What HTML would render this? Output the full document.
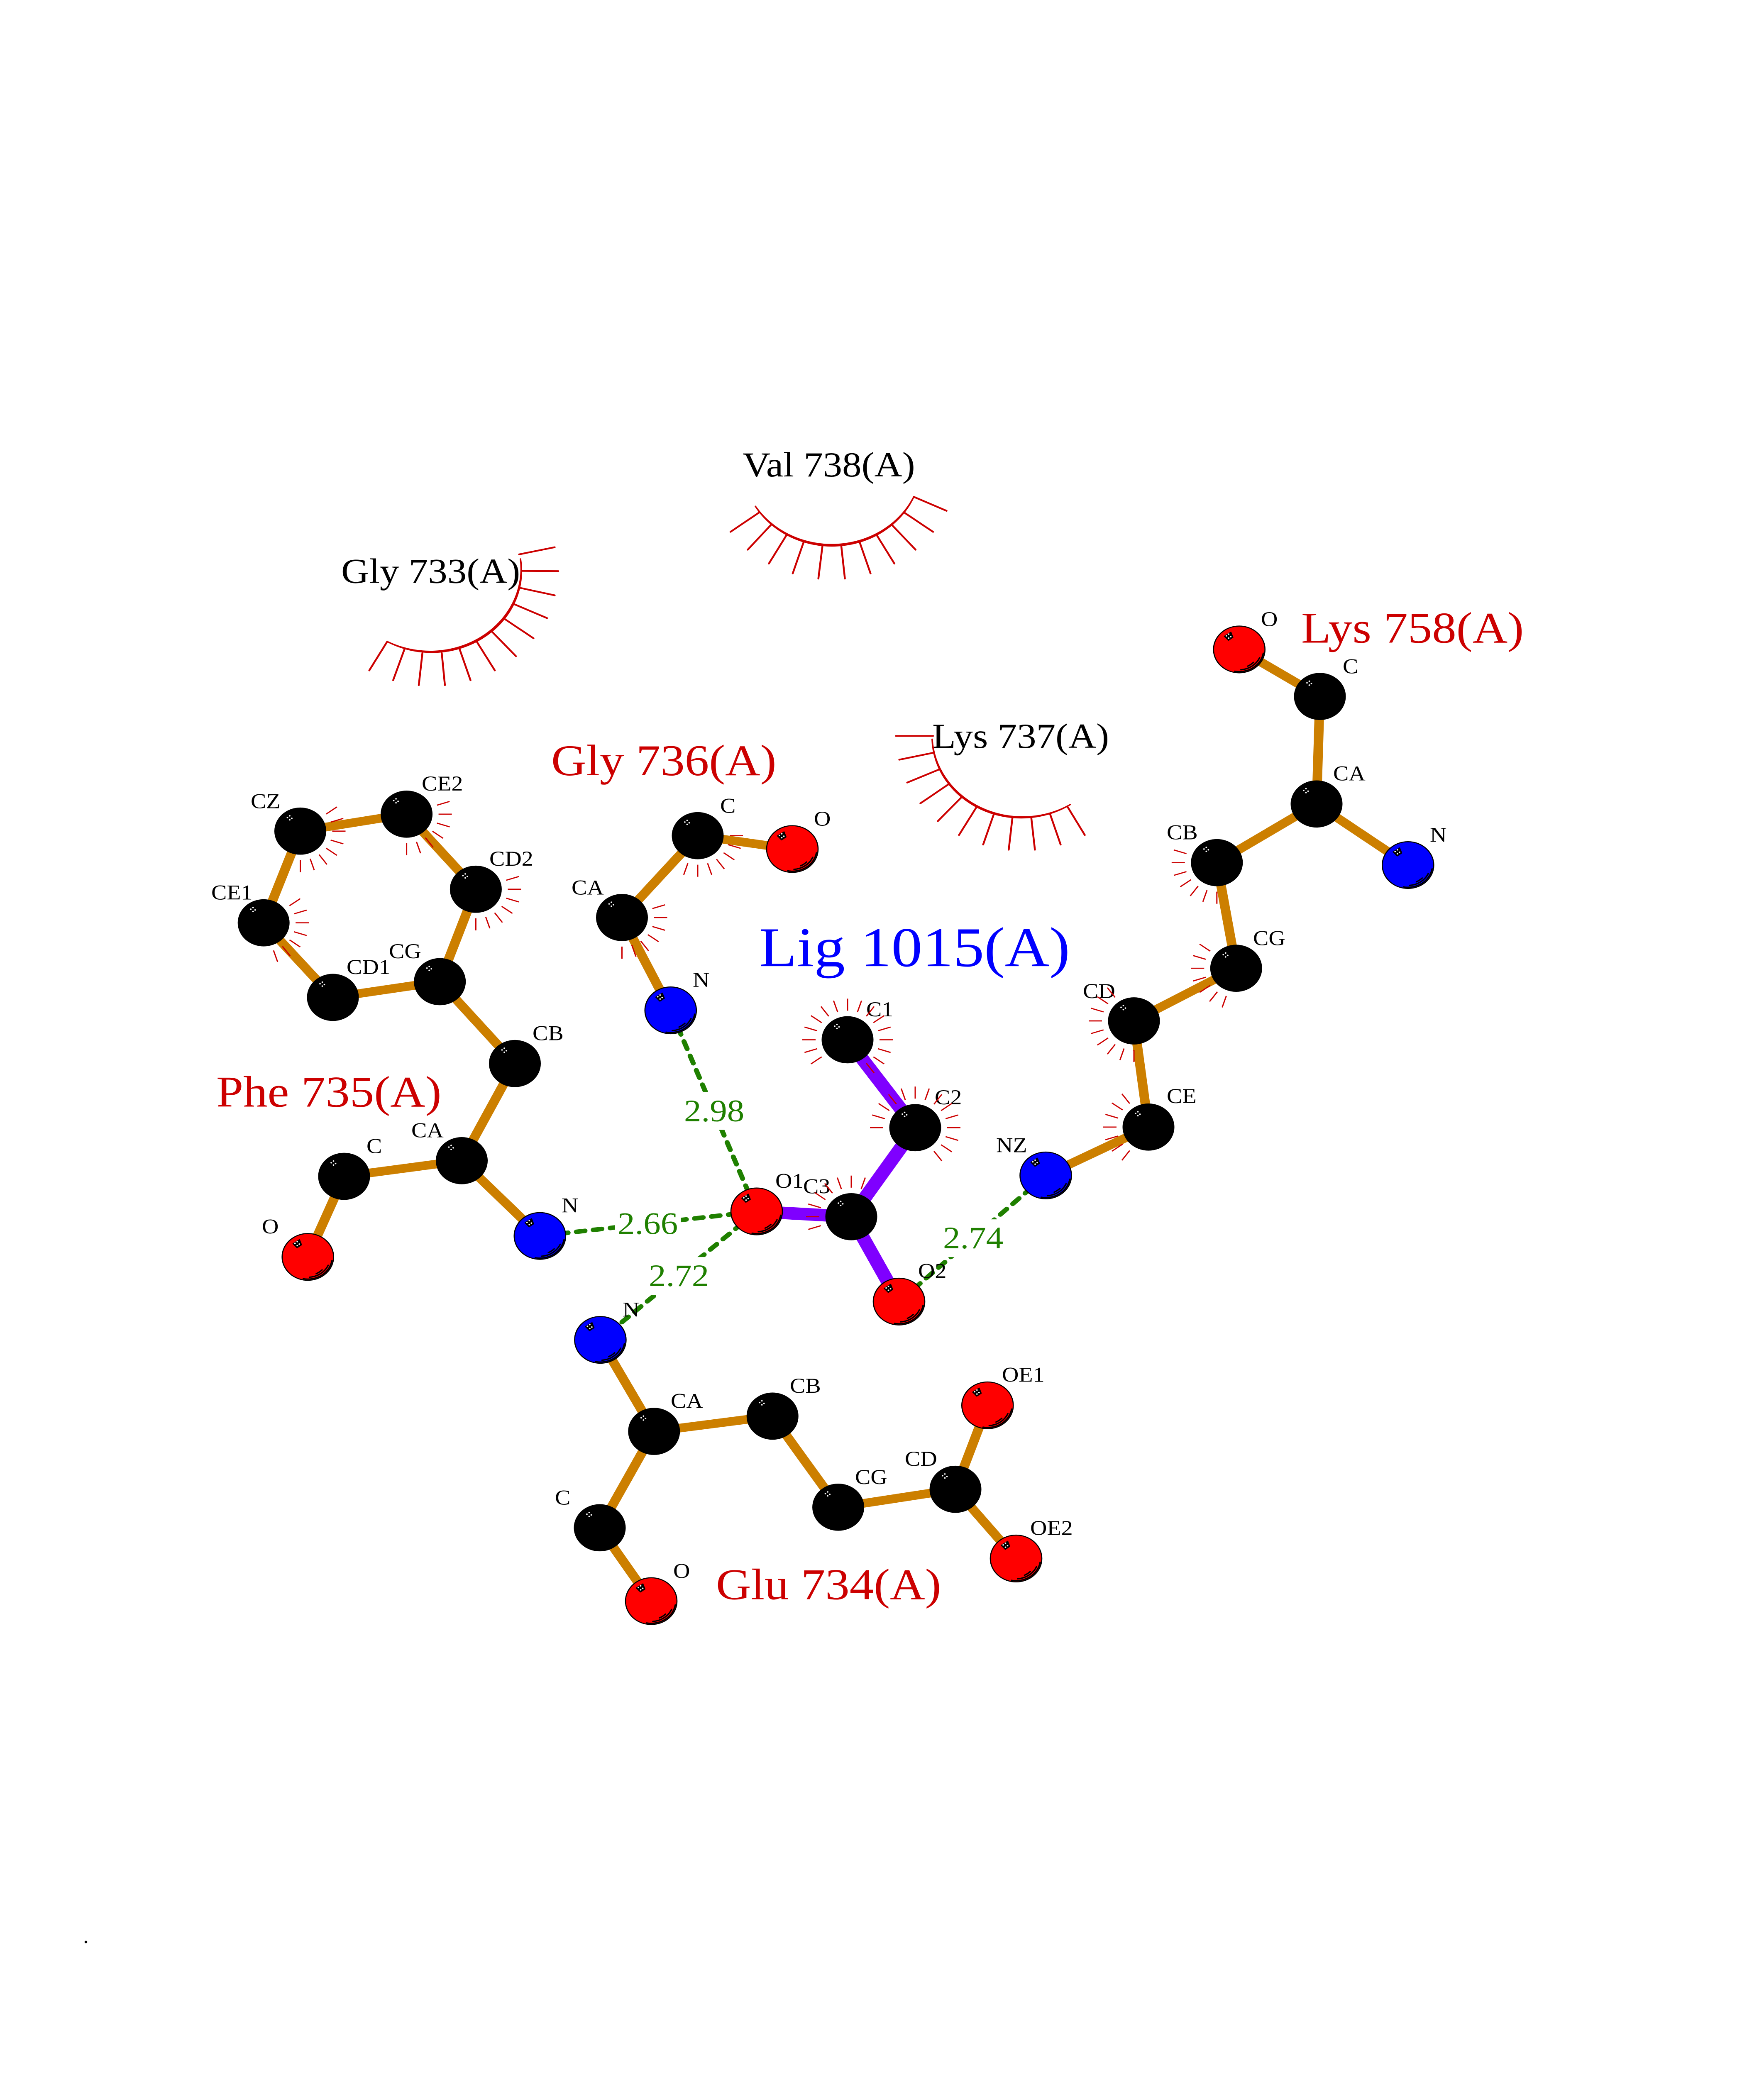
<!DOCTYPE html>
<html lang="en">
<head>
<meta charset="utf-8">
<title>Lig 1015(A) interactions</title>
<style>
html,body{margin:0;padding:0;background:#fff;width:100vw;height:100vh;overflow:hidden}
svg{display:block;position:absolute;left:0;top:0;width:100vw;height:100vh}
text{font-family:"Liberation Serif","Times New Roman",serif}
.a{font-size:56px;fill:#000}
.r{font-size:93px;fill:#000}
.h{font-size:117px;fill:#cc0000}
.d{font-size:83px;fill:#1f8000}
</style>
</head>
<body>
<svg xmlns="http://www.w3.org/2000/svg" viewBox="0 0 4250 5500" preserveAspectRatio="none">
<defs>
<line id="t" x1="77" y1="0" x2="109" y2="0" stroke="#cc0000" stroke-width="3"/>
<g id="r2"><use href="#t"/><use href="#t" transform="rotate(18)"/></g>
<g id="r4"><use href="#r2"/><use href="#r2" transform="rotate(36)"/></g>
<g id="r7"><use href="#r4"/><use href="#r2" transform="rotate(72)"/><use href="#t" transform="rotate(108)"/></g>
<g id="r8"><use href="#r4"/><use href="#r4" transform="rotate(72)"/></g>
<g id="r9"><use href="#r8"/><use href="#t" transform="rotate(144)"/></g>
<g id="r14"><use href="#r8"/><use href="#r4" transform="rotate(144)"/><use href="#r2" transform="rotate(216)"/></g>
<g id="r16"><use href="#r8"/><use href="#r8" transform="rotate(144)"/></g>
<g id="dots" fill="#fff"><circle cx="-31" cy="-36" r="1.9"/><circle cx="-25.5" cy="-40.5" r="1.9"/><circle cx="-20.5" cy="-34" r="1.9"/><circle cx="-25.5" cy="-30" r="1.9"/></g>
<g id="k"><circle r="62.5" fill="#000"/><use href="#dots"/></g>
<g id="b">
<circle r="62" stroke="#000" stroke-width="2.6"/>
<path d="M58 10A58.8 58.8 0 0 1-11 57.8M49 22A53.8 53.8 0 0 1 4 53.8M34.3 34.3A48.6 48.6 0 0 1 20.3 44.3" fill="none" stroke="#000" stroke-width="3.4" stroke-linecap="round"/>
<path d="M-36-35L-20-46-15-32-26-24Z" fill="#000" stroke="#000" stroke-width="2" stroke-linejoin="round"/>
<use href="#dots"/>
</g>
</defs>

<!-- covalent bonds -->
<path fill="none" stroke="#cc7f00" stroke-width="23" d="
M741.7 3331.6L829 3118L1112.5 3076.5L1300.8 3276
M1112.5 3076.5L1240.5 2819L1059.7 2602L802 2643.7L635.2 2446L723.5 2203L979.6 2158L1146.4 2357L1059.7 2602
M1615.8 2678L1498.5 2432L1681 2215L1909 2250.5
M2985.7 1721.4L3180 1846L3172 2131L3392.3 2293
M3172 2131L2931.8 2286.5L2978.3 2566.5L2732 2706L2767 2987.4L2519.5 3115.6
M1446.4 3551.5L1575.8 3794L1445 4049.5L1569 4244
M1575.8 3794L1861.2 3753.6L2019.6 3995L2302 3947.5L2379.3 3725
M2302 3947.5L2448 4131"/>
<path fill="none" stroke="#7f00ff" stroke-width="33" d="M2042 2756L2205 2989L2051 3225L1823 3211M2051 3225L2166 3450"/>

<!-- hydrogen bonds -->
<g fill="none" stroke="#1f8000" stroke-width="12" stroke-linecap="round" stroke-dasharray="21 20" stroke-dashoffset="34.5">
<path d="M1615.8 2678L1823 3211"/>
<path d="M1300.8 3276L1823 3211"/>
<path d="M1823 3211L1446.4 3551.5"/>
<path d="M2519.5 3115.6L2166 3450"/>
</g>
<g fill="#fff">
<rect x="1642" y="2895" width="158" height="100"/>
<rect x="1482" y="3194" width="158" height="100"/>
<rect x="1557" y="3332" width="158" height="100"/>
<rect x="2266" y="3232" width="158" height="100"/>
</g>
<text class="d" x="1648" y="2972">2.98</text>
<text class="d" x="1488" y="3271">2.66</text>
<text class="d" x="1563" y="3409">2.72</text>
<text class="d" x="2272" y="3309">2.74</text>

<!-- atoms -->
<use href="#k" x="723.5" y="2203"/>
<use href="#k" x="979.6" y="2158"/>
<use href="#k" x="1146.4" y="2357"/>
<use href="#k" x="635.2" y="2446"/>
<use href="#k" x="802" y="2643.7"/>
<use href="#k" x="1059.7" y="2602"/>
<use href="#k" x="1240.5" y="2819"/>
<use href="#k" x="1112.5" y="3076.5"/>
<use href="#k" x="829" y="3118"/>
<use href="#b" x="741.7" y="3331.6" fill="#f00"/>
<use href="#b" x="1300.8" y="3276" fill="#00f"/>
<use href="#k" x="1681" y="2215"/>
<use href="#b" x="1909" y="2250.5" fill="#f00"/>
<use href="#k" x="1498.5" y="2432"/>
<use href="#b" x="1615.8" y="2678" fill="#00f"/>
<use href="#k" x="2042" y="2756"/>
<use href="#k" x="2205" y="2989"/>
<use href="#k" x="2051" y="3225"/>
<use href="#b" x="1823" y="3211" fill="#f00"/>
<use href="#b" x="2166" y="3450" fill="#f00"/>
<use href="#b" x="2519.5" y="3115.6" fill="#00f"/>
<use href="#k" x="2767" y="2987.4"/>
<use href="#k" x="2732" y="2706"/>
<use href="#k" x="2978.3" y="2566.5"/>
<use href="#k" x="2931.8" y="2286.5"/>
<use href="#k" x="3172" y="2131"/>
<use href="#k" x="3180" y="1846"/>
<use href="#b" x="2985.7" y="1721.4" fill="#f00"/>
<use href="#b" x="3392.3" y="2293" fill="#00f"/>
<use href="#b" x="1446.4" y="3551.5" fill="#00f"/>
<use href="#k" x="1575.8" y="3794"/>
<use href="#k" x="1861.2" y="3753.6"/>
<use href="#k" x="2019.6" y="3995"/>
<use href="#k" x="2302" y="3947.5"/>
<use href="#b" x="2379.3" y="3725" fill="#f00"/>
<use href="#b" x="2448" y="4131" fill="#f00"/>
<use href="#k" x="1445" y="4049.5"/>
<use href="#b" x="1569" y="4244" fill="#f00"/>

<!-- residue labels -->
<text class="r" x="1789" y="1263">Val 738(A)</text>
<text class="r" x="822" y="1545">Gly 733(A)</text>
<text class="r" x="2246" y="1982">Lys 737(A)</text>
<text class="h" x="3135" y="1703.6">Lys 758(A)</text>
<text class="h" x="1328" y="2054.6">Gly 736(A)</text>
<text class="h" x="521" y="2933">Phe 735(A)</text>
<text class="h" x="1725" y="4238.8">Glu 734(A)</text>
<text x="1829" y="2561" font-size="149" fill="#0000ff">Lig 1015(A)</text>

<!-- atom labels -->
<text class="a" x="604" y="2142">CZ</text>
<text class="a" x="1016" y="2095.5">CE2</text>
<text class="a" x="509" y="2384">CE1</text>
<text class="a" x="1179" y="2294.6">CD2</text>
<text class="a" x="835" y="2581.7">CD1</text>
<text class="a" x="937" y="2540">CG</text>
<text class="a" x="1283" y="2757">CB</text>
<text class="a" x="991" y="3014.8">CA</text>
<text class="a" x="883" y="3056.6">C</text>
<text class="a" x="631" y="3270">O</text>
<text class="a" x="1353" y="3213.5">N</text>
<text class="a" x="1735" y="2154.6">C</text>
<text class="a" x="1961" y="2188.8">O</text>
<text class="a" x="1377" y="2371">CA</text>
<text class="a" x="1669" y="2615.8">N</text>
<text class="a" x="2087" y="2694">C1</text>
<text class="a" x="2252" y="2927">C2</text>
<text class="a" x="1868" y="3148.7">O1</text>
<text class="a" x="1935" y="3163">C3</text>
<text class="a" x="2212" y="3387.5">O2</text>
<text class="a" x="2400" y="3054">NZ</text>
<text class="a" x="1500" y="3490">N</text>
<text class="a" x="2811" y="2224.6">CB</text>
<text class="a" x="3019" y="2505">CG</text>
<text class="a" x="2609" y="2645.5">CD</text>
<text class="a" x="2811" y="2924">CE</text>
<text class="a" x="3445" y="2231.3">N</text>
<text class="a" x="3038" y="1659.7">O</text>
<text class="a" x="3235" y="1784.7">C</text>
<text class="a" x="3212" y="2068.4">CA</text>
<text class="a" x="1903" y="3691.8">CB</text>
<text class="a" x="1616" y="3732">CA</text>
<text class="a" x="2414" y="3662.5">OE1</text>
<text class="a" x="2180" y="3885">CD</text>
<text class="a" x="2060" y="3933.7">CG</text>
<text class="a" x="1337" y="3988">C</text>
<text class="a" x="1622" y="4183">O</text>
<text class="a" x="2482" y="4069">OE2</text>
<text x="200" y="5150" font-size="56" fill="#000">.</text>

<!-- atom contact ticks -->
<use href="#r8" transform="translate(723.5 2203) rotate(-36)"/>
<use href="#r7" transform="translate(979.6 2158) rotate(-18)"/>
<use href="#r7" transform="translate(1146.4 2357) rotate(-18)"/>
<use href="#r7" transform="translate(635.2 2446) rotate(-36)"/>
<use href="#r7" transform="translate(1681 2215)"/>
<use href="#r7" transform="translate(1498.5 2432) rotate(-18)"/>
<use href="#r16" transform="translate(2042 2756) rotate(144)"/>
<use href="#r14" transform="translate(2205 2989) rotate(180)"/>
<use href="#r8" transform="translate(2051 3225) rotate(162)"/>
<use href="#r7" transform="translate(2931.8 2286.5) rotate(90)"/>
<use href="#r7" transform="translate(2978.3 2566.5) rotate(108)"/>
<use href="#r9" transform="translate(2732 2706) rotate(90)"/>
<use href="#r7" transform="translate(2767 2987.4) rotate(126)"/>

<!-- hydrophobic contact arcs -->
<g fill="#cc0000" stroke="#cc0000" stroke-width="3.5" stroke-linejoin="round" stroke-linecap="round">
<path d="M1820 1342A214.4 214.4 0 0 0 2201.5 1317A217.5 217.5 0 0 1 1820 1342Z"/>
<path d="M933 1700.5A216 216 0 0 0 1254 1481.6A219 219 0 0 1 933 1700.5Z"/>
<path d="M2245.8 1959.3A215 215 0 0 0 2578.4 2132.7A218 218 0 0 1 2245.8 1959.3Z"/>
</g>
<g fill="none" stroke="#cc0000" stroke-width="4.5" stroke-linecap="round">
<path d="M1828.6 1358.7L1760 1409.7M1857.9 1390.8L1801.5 1457M1894.7 1418.9L1852.4 1493.9M1935.9 1437.8L1909.9 1520M1981.4 1448L1971.7 1533.7M2027 1448L2035.6 1533.7M2071.4 1437.8L2097.4 1520M2112.6 1418.9L2154.9 1493.9M2148.4 1390.8L2205.9 1457M2178.8 1358.7L2248 1409.7M2201.5 1316.8L2280.6 1354"/>
<path d="M933 1700.5L889.7 1777M974.3 1721.4L947.2 1803M1017.7 1731L1009 1816M1064.3 1731L1071.9 1816M1107.6 1721.4L1133.6 1803M1148.8 1701L1192.2 1777M1184.6 1673.5L1243.1 1739.3M1216 1640.8L1285.4 1691.8M1238.8 1601.5L1318 1638.3M1252.9 1558.2L1336.4 1578M1258.3 1513.3L1345 1513.8M1250.7 1469.4L1336.4 1450.5"/>
<path d="M2248 1950.7L2158.6 1950.7M2248.5 1995.3L2166.6 2013.7M2263.8 2039L2185.7 2074.3M2286.8 2077.7L2217.5 2129.3M2317.4 2112.3L2259.6 2176.3M2353.3 2138.3L2310.5 2213.3M2395 2156L2368.7 2238.7M2439.4 2165.7L2430.3 2252.3M2484.6 2166.7L2493.4 2252.3M2529.4 2156L2555.4 2238.7M2571.9 2138.3L2613.6 2213.3"/>
</g>
</svg>
</body>
</html>
